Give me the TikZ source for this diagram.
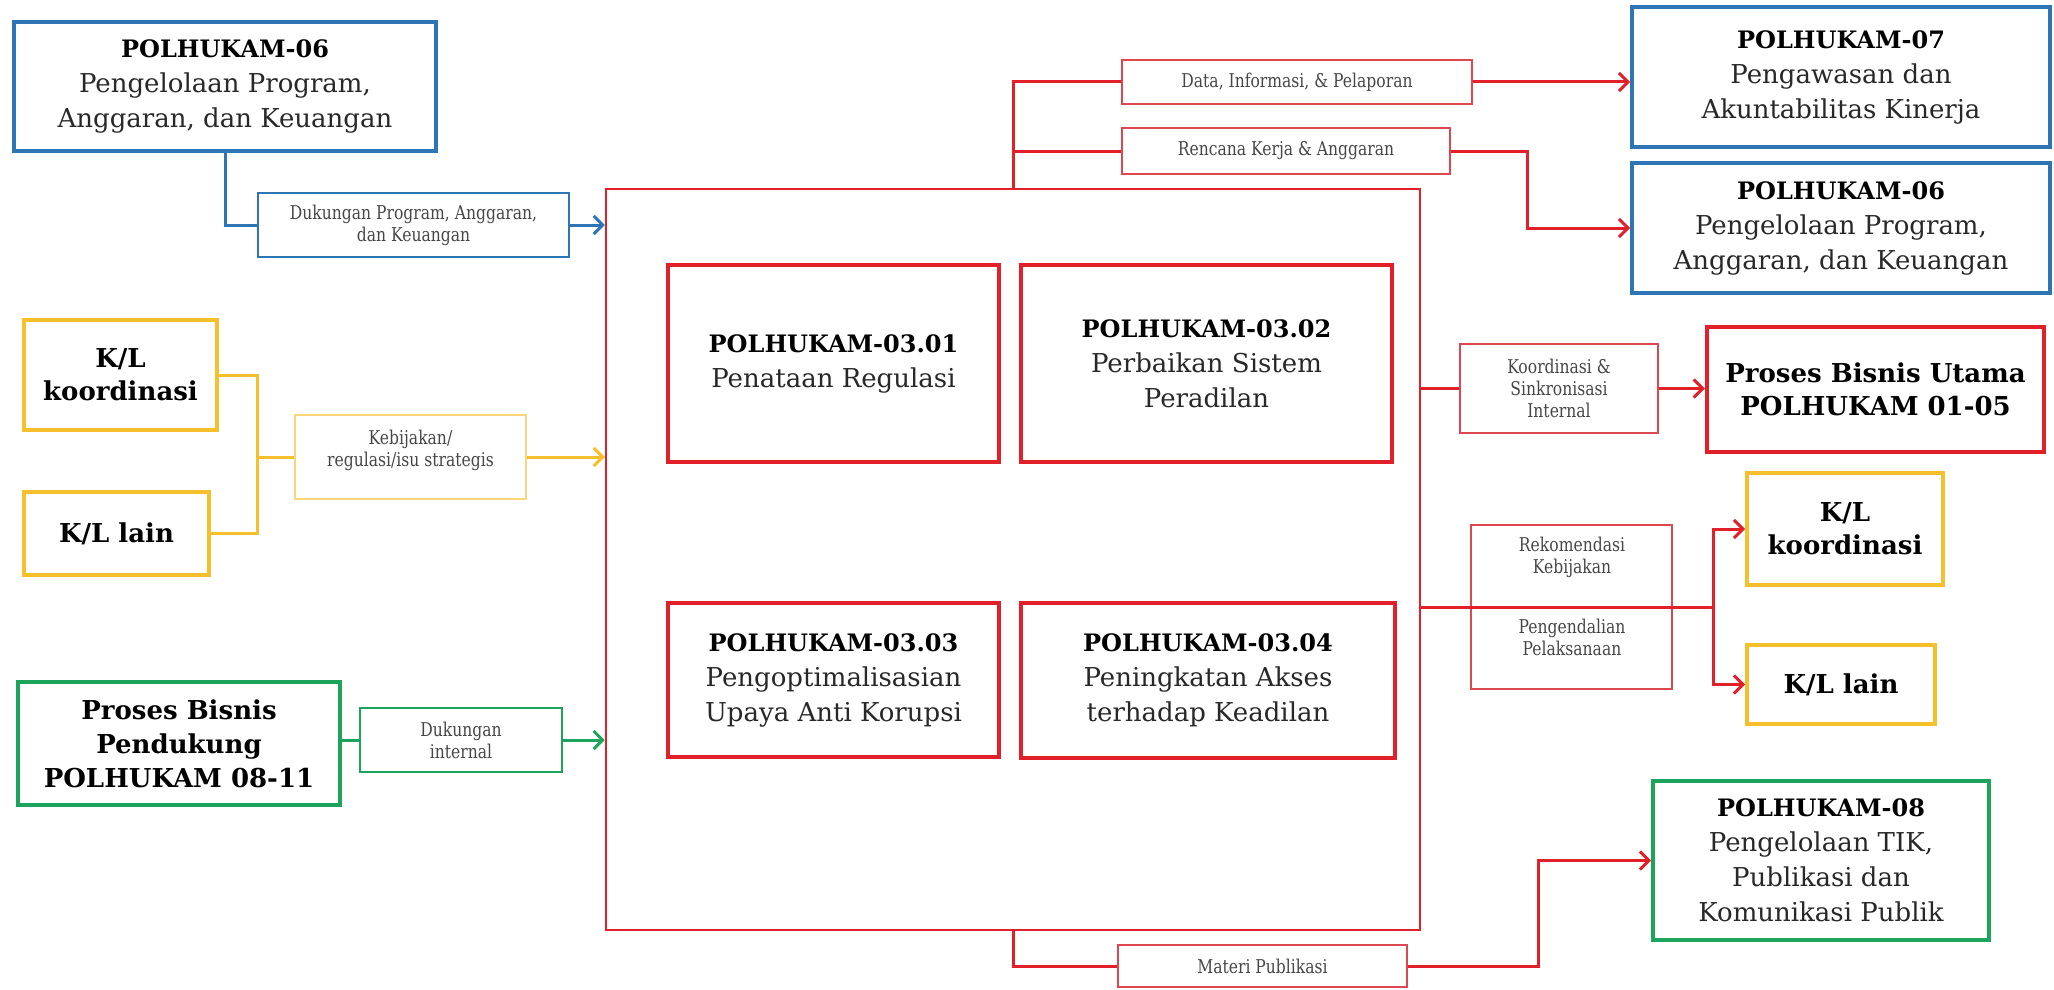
\documentclass[tikz,border=0pt]{standalone}
\usepackage{fontspec}
\setmainfont{DejaVu Serif}
\newfontfamily\labfont[FakeStretch=0.82]{DejaVu Serif}
\usetikzlibrary{arrows.meta}
\definecolor{cblue}{RGB}{46,117,182}
\definecolor{cred}{RGB}{226,32,42}
\definecolor{clabred}{RGB}{222,70,80}
\definecolor{cyel}{RGB}{246,192,45}
\definecolor{clabyel}{RGB}{250,214,120}
\definecolor{cgreen}{RGB}{28,164,92}
\definecolor{ctext}{RGB}{40,40,40}
\definecolor{clabtext}{RGB}{70,70,70}
\newcommand{\bhead}[1]{{\bfseries\fontsize{24}{35}\selectfont\color{black}#1}}
\begin{document}
\begin{tikzpicture}[x=1pt,y=-1pt,
  obox/.style={draw, line width=4pt, align=center, inner sep=0pt, text=ctext,
    font=\fontsize{26}{35}\selectfont},
  bbox/.style={obox, draw=cblue},
  ybox/.style={obox, draw=cyel, text=black, font=\bfseries\fontsize{26}{33}\selectfont},
  gbox/.style={obox, draw=cgreen},
  rbox/.style={obox, draw=cred, line width=4.5pt},
  mainbox/.style={draw=cred, line width=2.5pt, inner sep=0pt},
  lab/.style={draw, line width=1.5pt, align=center, inner sep=0pt, text=clabtext,
    font=\labfont\fontsize{19}{22}\selectfont},
  labtext/.style={align=center, inner sep=0pt, text=clabtext,
    font=\labfont\fontsize{19}{22}\selectfont},
  tip/.style={-{Straight Barb[length=9pt,width=18pt]}},
  bline/.style={draw=cblue, line width=3pt},
  yline/.style={draw=cyel, line width=3pt},
  gline/.style={draw=cgreen, line width=3pt},
  rline/.style={draw=cred, line width=3pt},
]
\useasboundingbox (0,0) rectangle (2054,990);

% ---- left side ----
\node[bbox, minimum width=422pt, minimum height=129pt] (b06l) at (225,86.5)
  {\bhead{POLHUKAM-06}\\Pengelolaan Program,\\Anggaran, dan Keuangan};
\node[ybox, minimum width=193pt, minimum height=110pt] (kl1) at (120.5,375) {K/L\\koordinasi};
\node[ybox, minimum width=185pt, minimum height=83pt] (kl2) at (116.5,533.5) {K/L lain};
\node[gbox, text=black, font=\bfseries\fontsize{26}{34}\selectfont, minimum width=322pt, minimum height=123pt] (pbp) at (179,743.5)
  {Proses Bisnis\\Pendukung\\POLHUKAM 08-11};

\node[lab, draw=cblue, minimum width=311pt, minimum height=64pt] (lab1) at (413.5,225)
  {Dukungan Program, Anggaran,\\dan Keuangan};
\node[lab, draw=clabyel, minimum width=231pt, minimum height=84pt] (lab2) at (410.5,457) {};
\node[labtext] (lab2t) at (410.5,450) {Kebijakan/\\regulasi/isu strategis};
\node[lab, draw=cgreen, minimum width=202pt, minimum height=64pt] (lab3) at (461,740)
  {Dukungan\\internal};

% ---- main box ----
\node[mainbox, minimum width=814pt, minimum height=741pt] (main) at (1013,559.5) {};
\node[rbox, minimum width=331pt, minimum height=197pt] (r1) at (833.5,363.5)
  {\bhead{POLHUKAM-03.01}\\Penataan Regulasi};
\node[rbox, minimum width=371pt, minimum height=197pt] (r2) at (1206.5,363.5)
  {\bhead{POLHUKAM-03.02}\\Perbaikan Sistem\\Peradilan};
\node[rbox, minimum width=331pt, minimum height=154pt] (r3) at (833.5,680)
  {\bhead{POLHUKAM-03.03}\\Pengoptimalisasian\\Upaya Anti Korupsi};
\node[rbox, minimum width=374pt, minimum height=155pt] (r4) at (1208,680.5)
  {\bhead{POLHUKAM-03.04}\\Peningkatan Akses\\terhadap Keadilan};

% ---- right side ----
\node[lab, draw=clabred, minimum width=350pt, minimum height=44pt] (lab4) at (1297,82)
  {Data, Informasi, \& Pelaporan};
\node[lab, draw=clabred, minimum width=328pt, minimum height=46pt] (lab5) at (1286,151)
  {Rencana Kerja \& Anggaran};
\node[bbox, minimum width=418pt, minimum height=140pt] (b07) at (1841,77)
  {\bhead{POLHUKAM-07}\\Pengawasan dan\\Akuntabilitas Kinerja};
\node[bbox, minimum width=418pt, minimum height=130pt] (b06r) at (1841,228)
  {\bhead{POLHUKAM-06}\\Pengelolaan Program,\\Anggaran, dan Keuangan};

\node[lab, draw=clabred, minimum width=198pt, minimum height=89pt] (lab6) at (1559,388.5)
  {Koordinasi \&\\Sinkronisasi\\Internal};
\node[rbox, text=black, font=\bfseries\fontsize{26}{33}\selectfont, minimum width=337pt, minimum height=125pt] (pbu) at (1875.5,389.5)
  {Proses Bisnis Utama\\POLHUKAM 01-05};

\node[lab, draw=clabred, minimum width=201pt, minimum height=164pt] (lab7) at (1571.5,607) {};
\node[labtext] (lab7a) at (1572,557.5) {Rekomendasi\\Kebijakan};
\node[labtext] (lab7b) at (1572,637.5) {Pengendalian\\Pelaksanaan};
\node[ybox, minimum width=196pt, minimum height=112pt] (klr1) at (1845,529) {K/L\\koordinasi};
\node[ybox, minimum width=188pt, minimum height=79pt] (klr2) at (1841,684.5) {K/L lain};

\node[lab, draw=clabred, minimum width=289pt, minimum height=42pt] (lab8) at (1262.5,966)
  {Materi Publikasi};
\node[gbox, minimum width=336pt, minimum height=159pt] (b08) at (1821,860.5)
  {\bhead{POLHUKAM-08}\\Pengelolaan TIK,\\Publikasi dan\\Komunikasi Publik};

% ---- helper coordinates ----
\coordinate (yj) at (257,457);
\coordinate (rk) at (1527,0);
\coordinate (rb) at (1713,607);
\coordinate (mp) at (1538,0);

% ---- connectors ----
\draw[bline] (b06l.south) |- (lab1.west);
\draw[bline, tip] (lab1.east) -- (lab1.east -| main.west);

\draw[yline] (kl1.east) -- (kl1.east -| yj) -- (kl2.east -| yj) -- (kl2.east);
\draw[yline] (yj) -- (lab2.west);
\draw[yline, tip] (lab2.east) -- (lab2.east -| main.west);

\draw[gline] (lab3.west -| pbp.east) -- (lab3.west);
\draw[gline, tip] (lab3.east) -- (lab3.east -| main.west);

\draw[rline] (main.north) |- (lab4.west);
\draw[rline] (main.north |- lab5.west) -- (lab5.west);
\draw[rline, tip] (lab4.east) -- (lab4.east -| b07.west);
\draw[rline, tip] (lab5.east) -- (lab5.east -| rk) |- (b06r.west);

\draw[rline] (main.east |- lab6.west) -- (lab6.west);
\draw[rline, tip] (lab6.east) -- (lab6.east -| pbu.west);

\draw[rline] (main.east |- rb) -- (rb);
\draw[rline, tip] (rb) |- (klr1.west);
\draw[rline, tip] (rb) |- (klr2.west);

\draw[rline] (main.south) |- (lab8.west);
\draw[rline, tip] (lab8.east) -- (lab8.east -| mp) |- (b08.west);
\end{tikzpicture}
\end{document}
